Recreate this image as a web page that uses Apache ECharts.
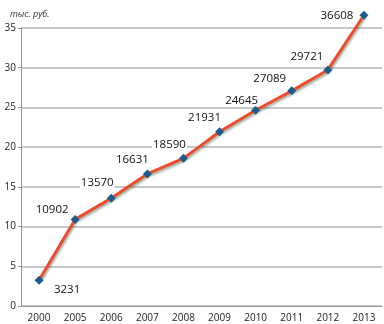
<!DOCTYPE html>
<html><head><meta charset="utf-8">
<script src="https://cdn.jsdelivr.net/npm/echarts@6/dist/echarts.min.js"></script>
<style>html,body{margin:0;padding:0;background:#fff}#c{width:384px;height:324px}</style>
</head><body><div id="c"></div>
<script>
const categories = ['2000','2005','2006','2007','2008','2009','2010','2011','2012','2013'];
const valuesRub = [3231, 10902, 13570, 16631, 18590, 21931, 24645, 27089, 29721, 36608];
const yTicks = [0, 5, 10, 15, 20, 25, 30, 35];
const unitLabel = 'тыс. руб.';

const labelOffsets = [[28,9],[-23,-10],[-14,-15],[-15,-14],[-14,-14],[-15,-14],[-14,-10],[-22,-12],[-21,-13],[-27,0]];
const data = valuesRub.map((v,i)=>({
  value: v/1000,
  label: {offset: labelOffsets[i]}
}));

const chart = echarts.init(document.getElementById('c'));
chart.setOption({
  animation:false,
  textStyle:{fontFamily:'Open Sans'},
  title:{text:unitLabel,left:5,top:5,textStyle:{fontSize:9,fontStyle:'italic',fontWeight:'normal',color:'#333',fontFamily:'Open Sans'}},
  grid:{left:21,right:2,top:28,bottom:18,containLabel:false},
  xAxis:{type:'category',data:categories,boundaryGap:true,
    axisLine:{lineStyle:{color:'#999',width:1}},
    axisTick:{show:false},
    axisLabel:{fontSize:10,color:'#222',margin:7}},
  yAxis:{type:'value',min:0,max:35,interval:5,
    axisLine:{show:true,lineStyle:{color:'#999'}},
    axisTick:{show:true,length:3,lineStyle:{color:'#999'}},
    axisLabel:{fontSize:10,color:'#222',margin:5,formatter:v=>yTicks.includes(v)?String(v):''},
    splitLine:{lineStyle:{color:'#b4b4b4',width:1.5}}},
  series:[{type:'line',data:data,clip:false,
    symbol:'diamond',symbolSize:9,
    itemStyle:{color:'#1f5b8c'},
    lineStyle:{color:'#ee4a2c',width:3,shadowColor:'rgba(60,90,60,0.45)',shadowBlur:2,shadowOffsetX:1,shadowOffsetY:2},
    label:{show:true,position:'inside',fontSize:11.5,color:'#111',backgroundColor:'#fff',padding:[0,1],
      formatter:p=>String(valuesRub[p.dataIndex])}
  }]
});
</script></body></html>
